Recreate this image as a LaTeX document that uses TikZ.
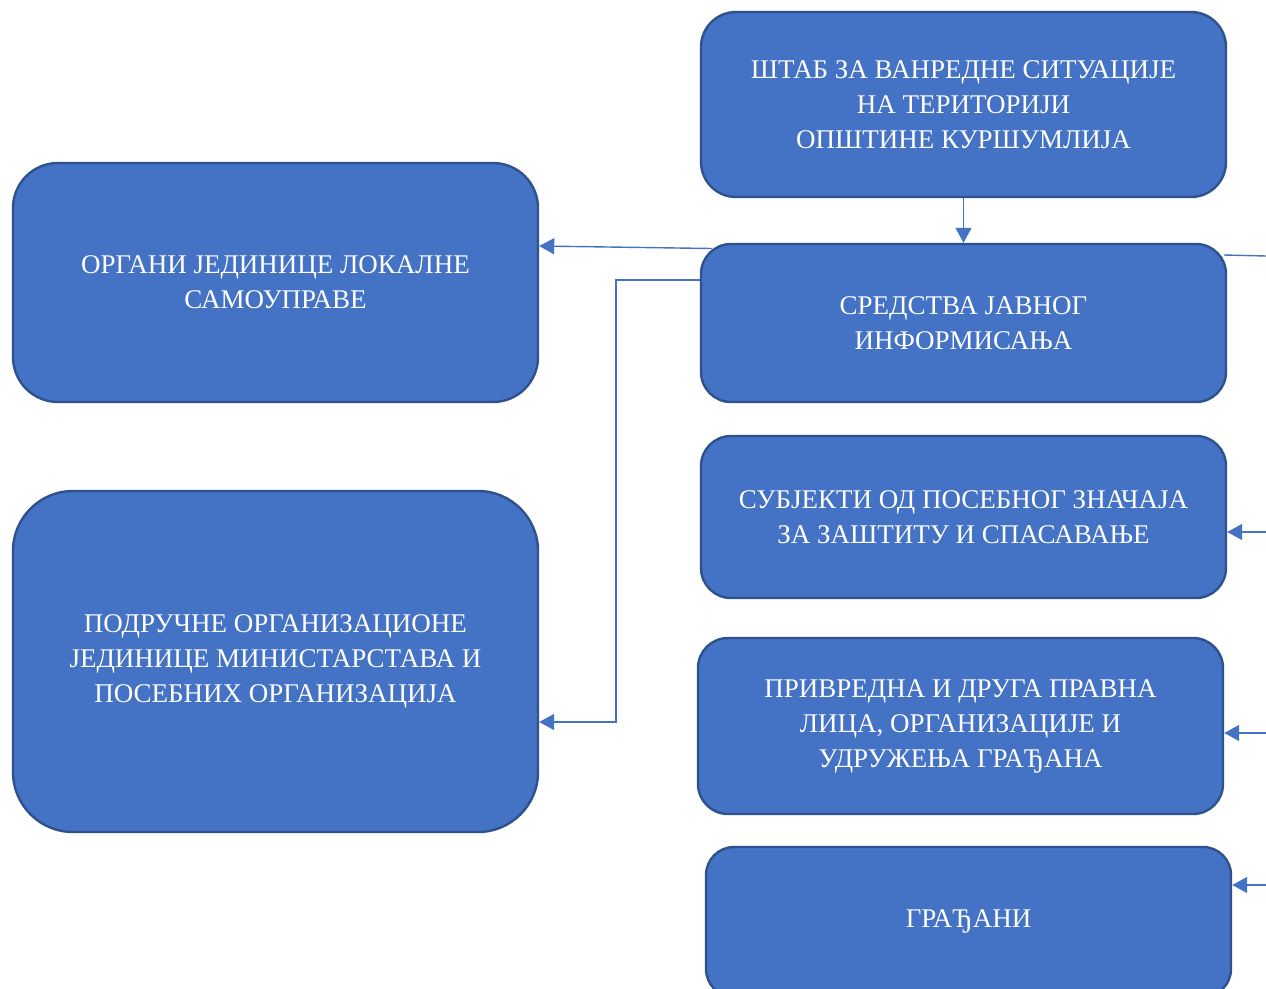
\documentclass[tikz,border=0pt]{standalone}
\usepackage{fontspec}
\setmainfont{Liberation Serif}
\usetikzlibrary{arrows.meta,calc}
\definecolor{boxfill}{HTML}{4472C4}
\definecolor{boxline}{HTML}{2F528F}
\definecolor{wire}{HTML}{4472C4}
\tikzset{
  orgbox/.style={draw=boxline, line width=2.4pt, fill=boxfill, text=white,
    align=center, font=\fontsize{27}{35}\selectfont, inner sep=0pt},
  wireline/.style={draw=wire, line width=1.4pt},
  wirearrow/.style={wireline, -{Triangle[length=15pt,width=16pt]}},
}
\begin{document}
\begin{tikzpicture}[x=1pt,y=-1pt]
\useasboundingbox (0,0) rectangle (1266,988);
\clip (0,0) rectangle (1266,988);
\fill[white] (0,0) rectangle (1266,988);

% right column
\node[orgbox, rounded corners=35pt, minimum width=525pt, minimum height=185pt]
  (stab) at (963.5,104.5) {ШТАБ ЗА ВАНРЕДНЕ СИТУАЦИЈЕ\\НА ТЕРИТОРИЈИ\\ОПШТИНЕ КУРШУМЛИЈА};
\node[orgbox, rounded corners=30pt, minimum width=525pt, minimum height=158pt]
  (media) at (963.5,323) {СРЕДСТВА ЈАВНОГ\\ИНФОРМИСАЊА};
\node[orgbox, rounded corners=30pt, minimum width=525pt, minimum height=162pt]
  (subj) at (963.5,517) {СУБЈЕКТИ ОД ПОСЕБНОГ ЗНАЧАЈА\\ЗА ЗАШТИТУ И СПАСАВАЊЕ};
\node[orgbox, rounded corners=30pt, minimum width=525pt, minimum height=176pt]
  (firms) at (960.5,726) {ПРИВРЕДНА И ДРУГА ПРАВНА\\ЛИЦА, ОРГАНИЗАЦИЈЕ И\\УДРУЖЕЊА ГРАЂАНА};
\node[orgbox, rounded corners=28pt, minimum width=525pt, minimum height=150pt]
  (citizens) at (968.5,922) {};
\node[text=white, font=\fontsize{27}{35}\selectfont] (citlabel) at (968.5,921) {ГРАЂАНИ};

% left column
\node[orgbox, rounded corners=45pt, minimum width=525pt, minimum height=239pt]
  (local) at (275.5,282.5) {ОРГАНИ ЈЕДИНИЦЕ ЛОКАЛНЕ\\САМОУПРАВЕ};
\node[orgbox, rounded corners=60pt, minimum width=525pt, minimum height=341pt]
  (units) at (275.5,661.5) {ПОДРУЧНЕ ОРГАНИЗАЦИОНЕ\\ЈЕДИНИЦЕ МИНИСТАРСТАВА И\\ПОСЕБНИХ ОРГАНИЗАЦИЈА};

% connector end points
\coordinate (mediaNW) at (712,248.5);
\coordinate (mediaNE) at (1224,255);
\coordinate (edgeTop) at (1266,256);
\coordinate (edgeSubj) at (1266,532);
\coordinate (edgeFirms) at (1266,733);
\coordinate (edgeCit) at (1266,885);
\coordinate (bend1) at (616,280);
\coordinate (bend2) at (616,722);

% connectors
\draw[wirearrow] (stab.south) -- (media.north);
\draw[wirearrow] (mediaNW) -- (local.east |- 0,246);
\draw[wirearrow] (media.west |- bend1) -- (bend1) -- (bend2) -- (units.east |- bend2);
\draw[wireline] (mediaNE) -- (edgeTop);
\draw[wirearrow] (edgeSubj) -- (subj.east |- edgeSubj);
\draw[wirearrow] (edgeFirms) -- (firms.east |- edgeFirms);
\draw[wirearrow] (edgeCit) -- (citizens.east |- edgeCit);
\end{tikzpicture}
\end{document}
